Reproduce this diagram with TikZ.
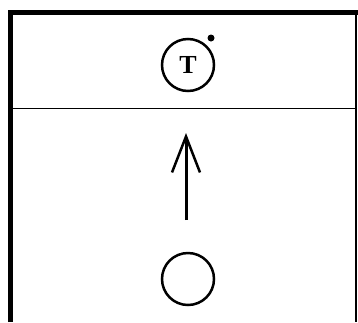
\documentclass[tikz,border=0pt]{standalone}
\usepackage{fontspec}
\setmainfont{Liberation Serif}
\usetikzlibrary{positioning,arrows.meta}

\begin{document}
\begin{tikzpicture}[x=1pt, y=-1pt, >={Straight Barb[length=36pt,width=28pt,line width=2.5pt]}]
\useasboundingbox (0,0) rectangle (358,322);

% frame
\draw[line width=5pt] (10.5,322) -- (10.5,12.5) -- (358,12.5);
\draw[line width=1.5pt] (356,12.5) -- (356,322);
\draw[line width=1pt] (13,108) -- (356,108);

% top: circle with T and dot
\node[draw, circle, line width=2.5pt, minimum size=52pt, inner sep=0pt] (T) at (188,65) {\fontsize{26}{28}\selectfont\bfseries T};
\node[circle, fill, minimum size=7pt, inner sep=0pt] (dot) at (211,38) {};

% bottom: empty circle and arrow
\node[draw, circle, line width=2.5pt, minimum size=52pt, inner sep=0pt] (obj) at (188,279) {};
\coordinate (tail) at (186,220);
\coordinate (tip) at (186,133);
\draw[->, line width=3pt] (tail) -- (tip);

\end{tikzpicture}
\end{document}
